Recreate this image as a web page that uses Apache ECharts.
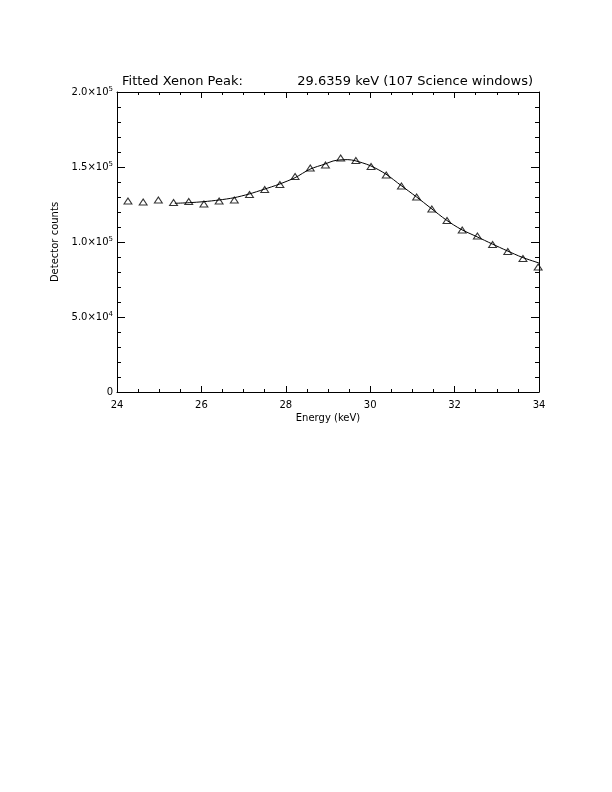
<!DOCTYPE html>
<html>
<head>
<meta charset="utf-8">
<script src="https://cdn.jsdelivr.net/npm/echarts@6/dist/echarts.min.js"></script>
<style>
  html, body { margin: 0; padding: 0; background: #fff; }
  #chart { width: 612px; height: 792px; }
</style>
</head>
<body>
<div id="chart"></div>
<script>
  // measured spectrum (keV, counts)
  var energy = [24.26, 24.62, 24.98, 25.34, 25.70, 26.06, 26.42, 26.78, 27.14, 27.50,
    27.86, 28.22, 28.58, 28.94, 29.30, 29.66, 30.02, 30.38, 30.74, 31.10,
    31.46, 31.82, 32.18, 32.54, 32.90, 33.26, 33.62, 33.98];
  var counts = [127300, 126700, 128000, 126300, 127000, 125300, 127300, 128000, 131700, 135000,
    138300, 143700, 149300, 151300, 156000, 154300, 150300, 144700, 137300, 130000,
    122000, 114300, 108000, 104000, 98300, 93700, 89000, 83300];

  // fitted curve
  var fitEnergy = [25.37, 25.71, 26.06, 26.42, 26.77, 27.13, 27.48, 27.84, 28.22, 28.57,
    28.93, 29.12, 29.28, 29.47, 29.64, 30.00, 30.37, 30.73, 31.09, 31.44,
    31.80, 32.15, 32.53, 32.89, 33.24, 33.60, 34.00];
  var fitCounts = [125800, 126200, 126900, 128000, 129500, 132000, 135100, 138500, 142900, 148500,
    152000, 154000, 154700, 154900, 154200, 150900, 145300, 137700, 130200, 122500,
    114700, 108500, 103500, 98700, 94200, 89800, 86000];

  var xTicks = [24, 26, 28, 30, 32, 34];
  var yTicks = [0, 50000, 100000, 150000, 200000];
  var yTickLabels = ['0', '5.0×10|4', '1.0×10|5', '1.5×10|5', '2.0×10|5'];

  var titleLeft = 'Fitted Xenon Peak:';
  var titleRight = '29.6359 keV (107 Science windows)';

  var font = 'DejaVu Sans';
  var chart = echarts.init(document.getElementById('chart'), null, { renderer: 'canvas' });

  function pairs(xs, ys) {
    return xs.map(function (x, i) { return [x, ys[i]]; });
  }

  function yLabel(value) {
    var idx = yTicks.indexOf(value);
    if (idx < 0) return '';
    var parts = yTickLabels[idx].split('|');
    if (parts.length === 1) return '{n|' + parts[0] + '}';
    return '{n|' + parts[0] + '}{s|' + parts[1] + '}';
  }

  var xBase = {
    type: 'value', min: 24, max: 34, interval: 2,
    axisLine: { show: true, onZero: false, lineStyle: { color: '#000', width: 1 } },
    axisTick: { show: true, inside: true, length: 6, lineStyle: { color: '#000' } },
    minorTick: { show: true, splitNumber: 4, length: 3, lineStyle: { color: '#000' } },
    splitLine: { show: false }
  };
  var yBase = {
    type: 'value', min: 0, max: 200000, interval: 50000,
    axisLine: { show: true, onZero: false, lineStyle: { color: '#000', width: 1 } },
    axisTick: { show: true, inside: true, length: 8, lineStyle: { color: '#000' } },
    minorTick: { show: true, splitNumber: 5, length: 4, lineStyle: { color: '#000' } },
    splitLine: { show: false }
  };

  chart.setOption({
    backgroundColor: '#fff',
    animation: false,
    title: [
      { text: titleLeft, left: 117, top: 70, textStyle: { fontFamily: font, fontSize: 13, fontWeight: 'normal', color: '#000' } },
      { text: titleRight, right: 74, top: 70, textStyle: { fontFamily: font, fontSize: 13, fontWeight: 'normal', color: '#000' } }
    ],
    grid: { left: 117, right: 73, top: 92, bottom: 400 },
    xAxis: [
      Object.assign({}, xBase, {
        position: 'bottom',
        name: 'Energy (keV)', nameLocation: 'middle', nameGap: 21,
        nameTextStyle: { fontFamily: font, fontSize: 10, color: '#000' },
        axisLabel: {
          show: true, margin: 8, fontFamily: font, fontSize: 10, color: '#000',
          formatter: function (v) { return xTicks.indexOf(v) >= 0 ? String(v) : ''; }
        }
      }),
      Object.assign({}, xBase, { position: 'top', axisLabel: { show: false } })
    ],
    yAxis: [
      Object.assign({}, yBase, {
        position: 'left',
        name: 'Detector counts', nameLocation: 'middle', nameGap: 49, nameRotate: 90,
        nameTextStyle: { fontFamily: font, fontSize: 10, color: '#000' },
        axisLabel: {
          show: true, margin: 4, color: '#000', formatter: yLabel,
          rich: {
            n: { fontFamily: font, fontSize: 10, color: '#000' },
            s: { fontFamily: font, fontSize: 7, color: '#000', padding: [0, 0, 6, 0] }
          }
        }
      }),
      Object.assign({}, yBase, { position: 'right', axisLabel: { show: false } })
    ],
    series: [
      {
        name: 'fit', type: 'line', xAxisIndex: 0, yAxisIndex: 0,
        data: pairs(fitEnergy, fitCounts),
        smooth: 0.3, showSymbol: false, clip: true,
        lineStyle: { color: '#000', width: 1 }
      },
      {
        name: 'data', type: 'scatter', xAxisIndex: 0, yAxisIndex: 0,
        data: pairs(energy, counts),
        symbol: 'triangle', symbolSize: [8, 6], clip: false,
        itemStyle: { color: 'rgba(255,255,255,0)', borderColor: '#000', borderWidth: 1 }
      }
    ]
  });
</script>
</body>
</html>
